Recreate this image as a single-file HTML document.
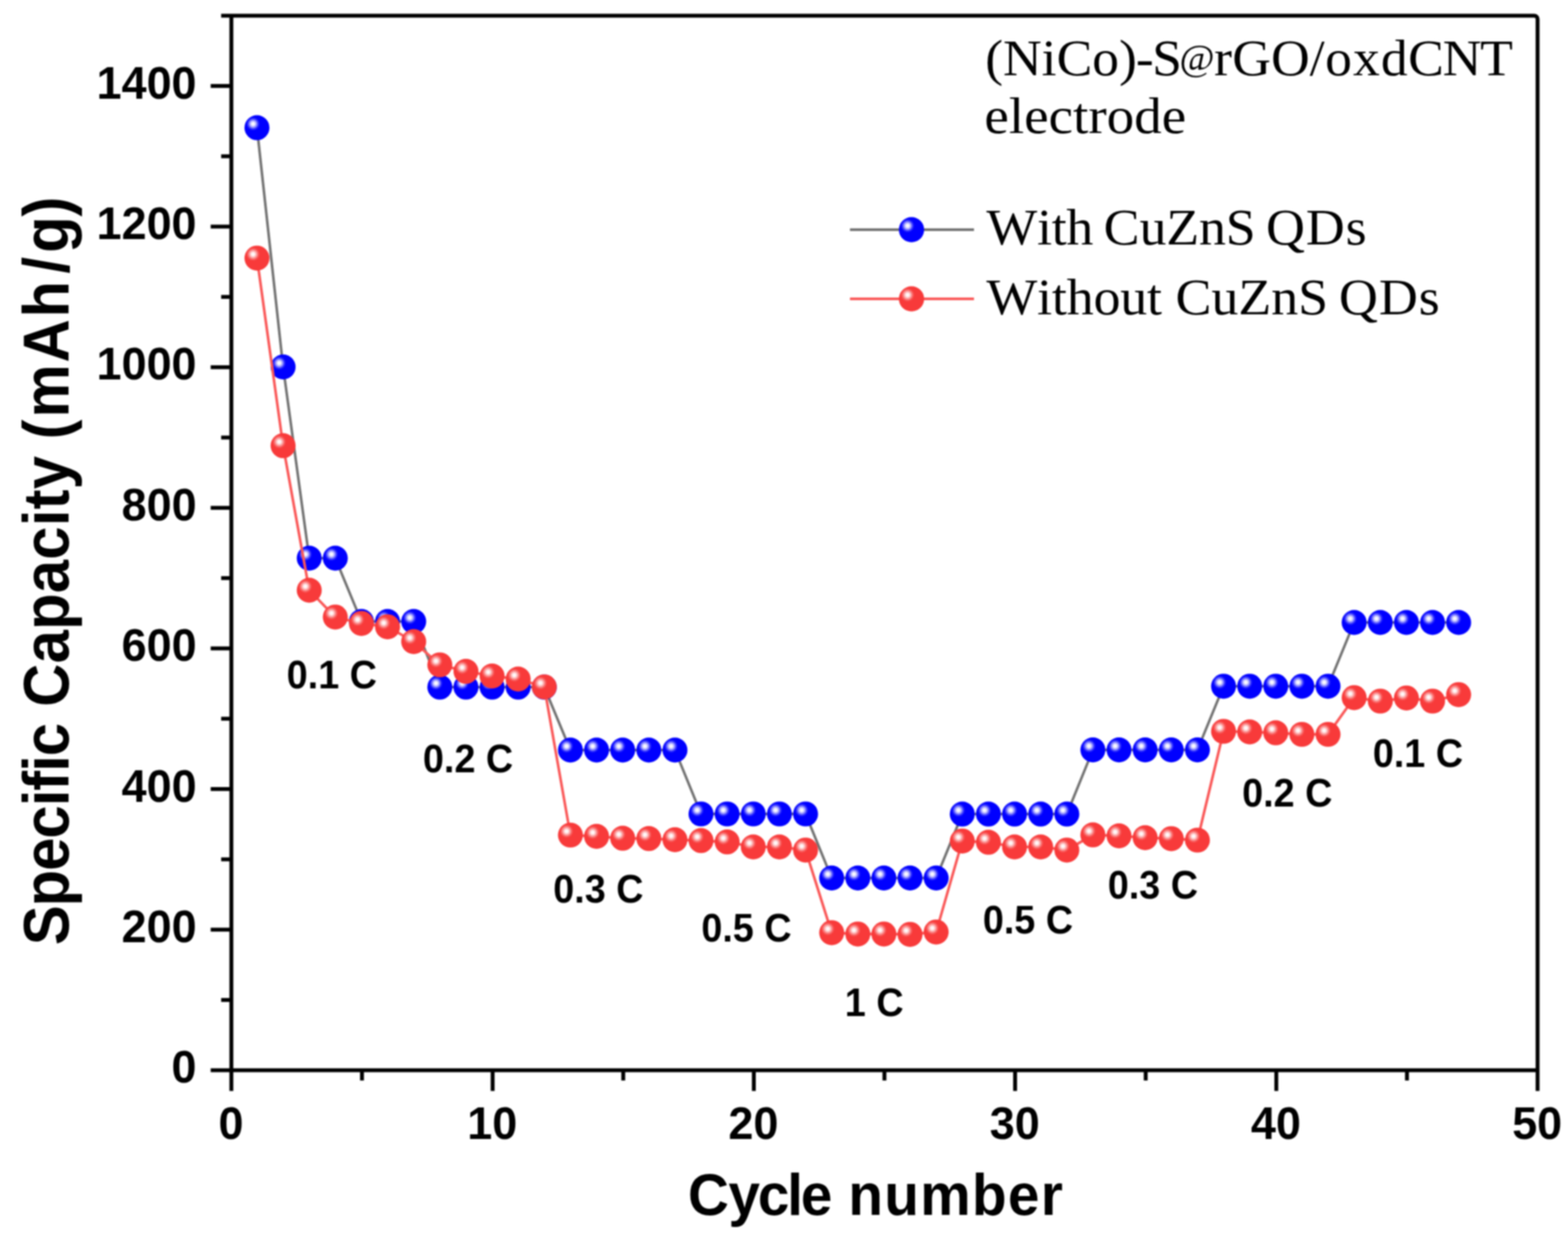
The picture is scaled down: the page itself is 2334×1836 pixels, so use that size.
<!DOCTYPE html>
<html lang="en"><head><meta charset="utf-8"><title>Rate capability</title>
<style>
html,body{margin:0;padding:0;background:#fff;}
body{width:2334px;height:1836px;overflow:hidden;}
svg{display:block;filter:blur(1.2px);}
.tk{font-family:"Liberation Sans",sans-serif;font-weight:bold;font-size:69px;fill:#000;}
.rt{font-family:"Liberation Sans",sans-serif;font-weight:bold;font-size:58.5px;fill:#000;}
.ax{font-family:"Liberation Sans",sans-serif;font-weight:bold;fill:#000;font-kerning:none;font-variant-ligatures:none;}
.lg{font-family:"Liberation Serif",serif;fill:#000;font-kerning:none;font-variant-ligatures:none;}
</style></head><body>
<svg width="2334" height="1836" viewBox="0 0 2334 1836">
<defs>
<radialGradient id="gb" cx="0.345" cy="0.345" r="0.27" fx="0.345" fy="0.345"><stop offset="0" stop-color="#ffffff"/><stop offset="0.22" stop-color="#f4f4ff"/><stop offset="0.5" stop-color="#9a9aff"/><stop offset="0.78" stop-color="#3030ff"/><stop offset="1" stop-color="#0000ff"/></radialGradient>
<radialGradient id="gr" cx="0.345" cy="0.345" r="0.27" fx="0.345" fy="0.345"><stop offset="0" stop-color="#ffffff"/><stop offset="0.22" stop-color="#fff4f4"/><stop offset="0.5" stop-color="#fcaaaa"/><stop offset="0.78" stop-color="#f95e5e"/><stop offset="1" stop-color="#f83a3a"/></radialGradient>
</defs>
<rect x="0" y="0" width="2334" height="1836" fill="#ffffff"/>
<g stroke="#000000" stroke-width="5.80" fill="none" stroke-linecap="butt" stroke-linejoin="round">
<path d="M344.4 23.3 V1624.5"/>
<path d="M329.2 23.3 H2283.7 A5.0 5.0 0 0 1 2288.7 28.3 V1624.5"/>
<path d="M313.6 1593.7 H2288.7"/>
<path d="M329.2 1489.0 H344.4"/>
<path d="M313.6 1384.3 H344.4"/>
<path d="M329.2 1279.6 H344.4"/>
<path d="M313.6 1174.9 H344.4"/>
<path d="M329.2 1070.2 H344.4"/>
<path d="M313.6 965.5 H344.4"/>
<path d="M329.2 860.8 H344.4"/>
<path d="M313.6 756.2 H344.4"/>
<path d="M329.2 651.5 H344.4"/>
<path d="M313.6 546.8 H344.4"/>
<path d="M329.2 442.1 H344.4"/>
<path d="M313.6 337.4 H344.4"/>
<path d="M329.2 232.7 H344.4"/>
<path d="M313.6 128.0 H344.4"/>
<path d="M538.8 1593.7 V1608.9"/>
<path d="M733.3 1593.7 V1624.5"/>
<path d="M927.7 1593.7 V1608.9"/>
<path d="M1122.1 1593.7 V1624.5"/>
<path d="M1316.5 1593.7 V1608.9"/>
<path d="M1511.0 1593.7 V1624.5"/>
<path d="M1705.4 1593.7 V1608.9"/>
<path d="M1899.8 1593.7 V1624.5"/>
<path d="M2094.3 1593.7 V1608.9"/>
</g>
<g class="tk" text-anchor="end">
<text transform="translate(292.6 1612.3) scale(0.970 1)">0</text>
<text transform="translate(292.6 1402.9) scale(0.970 1)">200</text>
<text transform="translate(292.6 1193.5) scale(0.970 1)">400</text>
<text transform="translate(292.6 984.1) scale(0.970 1)">600</text>
<text transform="translate(292.6 774.8) scale(0.970 1)">800</text>
<text transform="translate(292.6 565.4) scale(0.970 1)">1000</text>
<text transform="translate(292.6 356.0) scale(0.970 1)">1200</text>
<text transform="translate(292.6 146.6) scale(0.970 1)">1400</text>
</g>
<g class="tk" text-anchor="middle">
<text transform="translate(343.8 1696.1) scale(0.970 1)">0</text>
<text transform="translate(732.7 1696.1) scale(0.970 1)">10</text>
<text transform="translate(1121.5 1696.1) scale(0.970 1)">20</text>
<text transform="translate(1510.4 1696.1) scale(0.970 1)">30</text>
<text transform="translate(1899.2 1696.1) scale(0.970 1)">40</text>
<text transform="translate(2288.1 1696.1) scale(0.970 1)">50</text>
</g>
<text class="ax" font-size="88.0" transform="translate(1035.2 1808.9) scale(0.9600 1.0000)" x="-11.8 51.0 96.6 142.2 163.3 212.3 237.0 292.8 348.5 428.8 484.5 535.4" y="0">Cycle number</text>
<text class="ax" font-size="96.0" transform="translate(102.4 1405.0) rotate(-90) scale(0.9275 1.0000)" x="-2.8 59.7 116.7 168.5 220.4 245.4 275.8 300.9 354.3 380.1 449.8 503.5 562.5 616.3 670.0 697.0 729.4 782.7 809.4 844.4 932.8 1005.2 1075.8 1109.0 1167.0" y="0">Specific Capacity (mAh/g)</text>
<polyline points="382.5,190.2 421.4,546.4 460.3,831.1 499.1,831.1 538.0,925.4 576.9,925.4 615.8,925.4 654.7,1023.2 693.6,1023.2 732.5,1023.2 771.3,1023.2 810.2,1023.2 849.1,1116.9 888.0,1116.9 926.9,1116.9 965.8,1116.9 1004.7,1116.9 1043.5,1212.0 1082.4,1212.0 1121.3,1212.0 1160.2,1212.0 1199.1,1212.0 1238.0,1307.4 1276.9,1307.4 1315.7,1307.4 1354.6,1307.4 1393.5,1307.4 1432.4,1212.2 1471.3,1212.2 1510.2,1212.2 1549.1,1212.2 1588.0,1212.2 1626.8,1116.6 1665.7,1116.6 1704.6,1116.6 1743.5,1116.6 1782.4,1116.6 1821.3,1021.8 1860.2,1021.8 1899.0,1021.8 1937.9,1021.8 1976.8,1021.8 2015.7,926.9 2054.6,926.9 2093.5,926.9 2132.4,926.9 2171.2,926.9" fill="none" stroke="#727272" stroke-width="3.8" stroke-linejoin="round"/>
<g fill="url(#gb)">
<circle cx="382.5" cy="190.2" r="18.6"/>
<circle cx="421.4" cy="546.4" r="18.6"/>
<circle cx="460.3" cy="831.1" r="18.6"/>
<circle cx="499.1" cy="831.1" r="18.6"/>
<circle cx="538.0" cy="925.4" r="18.6"/>
<circle cx="576.9" cy="925.4" r="18.6"/>
<circle cx="615.8" cy="925.4" r="18.6"/>
<circle cx="654.7" cy="1023.2" r="18.6"/>
<circle cx="693.6" cy="1023.2" r="18.6"/>
<circle cx="732.5" cy="1023.2" r="18.6"/>
<circle cx="771.3" cy="1023.2" r="18.6"/>
<circle cx="810.2" cy="1023.2" r="18.6"/>
<circle cx="849.1" cy="1116.9" r="18.6"/>
<circle cx="888.0" cy="1116.9" r="18.6"/>
<circle cx="926.9" cy="1116.9" r="18.6"/>
<circle cx="965.8" cy="1116.9" r="18.6"/>
<circle cx="1004.7" cy="1116.9" r="18.6"/>
<circle cx="1043.5" cy="1212.0" r="18.6"/>
<circle cx="1082.4" cy="1212.0" r="18.6"/>
<circle cx="1121.3" cy="1212.0" r="18.6"/>
<circle cx="1160.2" cy="1212.0" r="18.6"/>
<circle cx="1199.1" cy="1212.0" r="18.6"/>
<circle cx="1238.0" cy="1307.4" r="18.6"/>
<circle cx="1276.9" cy="1307.4" r="18.6"/>
<circle cx="1315.7" cy="1307.4" r="18.6"/>
<circle cx="1354.6" cy="1307.4" r="18.6"/>
<circle cx="1393.5" cy="1307.4" r="18.6"/>
<circle cx="1432.4" cy="1212.2" r="18.6"/>
<circle cx="1471.3" cy="1212.2" r="18.6"/>
<circle cx="1510.2" cy="1212.2" r="18.6"/>
<circle cx="1549.1" cy="1212.2" r="18.6"/>
<circle cx="1588.0" cy="1212.2" r="18.6"/>
<circle cx="1626.8" cy="1116.6" r="18.6"/>
<circle cx="1665.7" cy="1116.6" r="18.6"/>
<circle cx="1704.6" cy="1116.6" r="18.6"/>
<circle cx="1743.5" cy="1116.6" r="18.6"/>
<circle cx="1782.4" cy="1116.6" r="18.6"/>
<circle cx="1821.3" cy="1021.8" r="18.6"/>
<circle cx="1860.2" cy="1021.8" r="18.6"/>
<circle cx="1899.0" cy="1021.8" r="18.6"/>
<circle cx="1937.9" cy="1021.8" r="18.6"/>
<circle cx="1976.8" cy="1021.8" r="18.6"/>
<circle cx="2015.7" cy="926.9" r="18.6"/>
<circle cx="2054.6" cy="926.9" r="18.6"/>
<circle cx="2093.5" cy="926.9" r="18.6"/>
<circle cx="2132.4" cy="926.9" r="18.6"/>
<circle cx="2171.2" cy="926.9" r="18.6"/>
</g>
<polyline points="382.5,384.3 421.4,663.7 460.3,878.9 499.1,918.8 538.0,928.3 576.9,933.3 615.8,955.4 654.7,990.0 693.6,999.7 732.5,1006.6 771.3,1011.1 810.2,1022.8 849.1,1243.5 888.0,1245.4 926.9,1248.2 965.8,1248.7 1004.7,1250.4 1043.5,1251.7 1082.4,1253.7 1121.3,1261.1 1160.2,1261.1 1199.1,1265.8 1238.0,1388.8 1276.9,1390.8 1315.7,1390.8 1354.6,1391.3 1393.5,1387.8 1432.4,1252.3 1471.3,1254.2 1510.2,1261.1 1549.1,1261.1 1588.0,1265.8 1626.8,1243.2 1665.7,1244.6 1704.6,1247.4 1743.5,1248.8 1782.4,1251.0 1821.3,1089.0 1860.2,1089.9 1899.0,1091.2 1937.9,1093.5 1976.8,1093.5 2015.7,1038.8 2054.6,1044.0 2093.5,1039.3 2132.4,1044.0 2171.2,1034.3" fill="none" stroke="#fa5858" stroke-width="3.9" stroke-linejoin="round"/>
<g fill="url(#gr)">
<circle cx="382.5" cy="384.3" r="18.6"/>
<circle cx="421.4" cy="663.7" r="18.6"/>
<circle cx="460.3" cy="878.9" r="18.6"/>
<circle cx="499.1" cy="918.8" r="18.6"/>
<circle cx="538.0" cy="928.3" r="18.6"/>
<circle cx="576.9" cy="933.3" r="18.6"/>
<circle cx="615.8" cy="955.4" r="18.6"/>
<circle cx="654.7" cy="990.0" r="18.6"/>
<circle cx="693.6" cy="999.7" r="18.6"/>
<circle cx="732.5" cy="1006.6" r="18.6"/>
<circle cx="771.3" cy="1011.1" r="18.6"/>
<circle cx="810.2" cy="1022.8" r="18.6"/>
<circle cx="849.1" cy="1243.5" r="18.6"/>
<circle cx="888.0" cy="1245.4" r="18.6"/>
<circle cx="926.9" cy="1248.2" r="18.6"/>
<circle cx="965.8" cy="1248.7" r="18.6"/>
<circle cx="1004.7" cy="1250.4" r="18.6"/>
<circle cx="1043.5" cy="1251.7" r="18.6"/>
<circle cx="1082.4" cy="1253.7" r="18.6"/>
<circle cx="1121.3" cy="1261.1" r="18.6"/>
<circle cx="1160.2" cy="1261.1" r="18.6"/>
<circle cx="1199.1" cy="1265.8" r="18.6"/>
<circle cx="1238.0" cy="1388.8" r="18.6"/>
<circle cx="1276.9" cy="1390.8" r="18.6"/>
<circle cx="1315.7" cy="1390.8" r="18.6"/>
<circle cx="1354.6" cy="1391.3" r="18.6"/>
<circle cx="1393.5" cy="1387.8" r="18.6"/>
<circle cx="1432.4" cy="1252.3" r="18.6"/>
<circle cx="1471.3" cy="1254.2" r="18.6"/>
<circle cx="1510.2" cy="1261.1" r="18.6"/>
<circle cx="1549.1" cy="1261.1" r="18.6"/>
<circle cx="1588.0" cy="1265.8" r="18.6"/>
<circle cx="1626.8" cy="1243.2" r="18.6"/>
<circle cx="1665.7" cy="1244.6" r="18.6"/>
<circle cx="1704.6" cy="1247.4" r="18.6"/>
<circle cx="1743.5" cy="1248.8" r="18.6"/>
<circle cx="1782.4" cy="1251.0" r="18.6"/>
<circle cx="1821.3" cy="1089.0" r="18.6"/>
<circle cx="1860.2" cy="1089.9" r="18.6"/>
<circle cx="1899.0" cy="1091.2" r="18.6"/>
<circle cx="1937.9" cy="1093.5" r="18.6"/>
<circle cx="1976.8" cy="1093.5" r="18.6"/>
<circle cx="2015.7" cy="1038.8" r="18.6"/>
<circle cx="2054.6" cy="1044.0" r="18.6"/>
<circle cx="2093.5" cy="1039.3" r="18.6"/>
<circle cx="2132.4" cy="1044.0" r="18.6"/>
<circle cx="2171.2" cy="1034.3" r="18.6"/>
</g>
<g class="rt">
<text transform="translate(426.8 1025.0) scale(0.960 1)">0.1 C</text>
<text transform="translate(629.6 1149.8) scale(0.960 1)">0.2 C</text>
<text transform="translate(823.6 1343.8) scale(0.960 1)">0.3 C</text>
<text transform="translate(1044.0 1402.0) scale(0.960 1)">0.5 C</text>
<text transform="translate(1257.6 1512.5) scale(0.960 1)">1 C</text>
<text transform="translate(1463.0 1390.0) scale(0.960 1)">0.5 C</text>
<text transform="translate(1649.0 1338.0) scale(0.960 1)">0.3 C</text>
<text transform="translate(1849.0 1200.8) scale(0.960 1)">0.2 C</text>
<text transform="translate(2043.5 1141.5) scale(0.960 1)">0.1 C</text>
</g>
<text class="lg" aria-label="(NiCo)-S@rGO/oxdCNT" font-size="77.0" transform="translate(1470.0 112.4) scale(1.0357 1.0000)" x="-3.4 22.2 77.8 99.1 150.4 188.9 213.2 236.5 276.0 325.7 351.6 407.4 462.9 485.3 525.3 565.3 604.5 654.2 708.1" y="0.0 0.0 0.0 0.0 0.0 0.0 0.0 0.0 -8.2 0.0 0.0 0.0 0.0 0.0 0.0 0.0 0.0 0.0 0.0">(NiCo)-S<tspan font-size="54.7">@</tspan>rGO/oxdCNT</text>
<text class="lg" font-size="77.0" transform="translate(1468.4 198.0) scale(1.0653 1.0000)" x="-3.0 31.2 52.6 86.7 120.9 142.3 167.9 206.4 244.9" y="0">electrode</text>
<text class="lg" font-size="77.0" transform="translate(1468.4 363.7) scale(1.0423 1.0000)" x="-0.1 72.2 93.1 114.1 152.6 167.4 218.5 256.7 303.4 341.6 384.4 399.1 456.0 512.8" y="0">With CuZnS QDs</text>
<text class="lg" font-size="77.0" transform="translate(1468.4 467.6) scale(1.0436 1.0000)" x="-0.1 72.3 93.4 114.4 152.6 190.8 229.0 250.4 269.6 320.8 359.2 406.1 444.4 487.2 502.8 559.7 616.5" y="0">Without CuZnS QDs</text>
<path d="M1265.2 342.0 H1449.8" stroke="#727272" stroke-width="3.8" fill="none"/>
<circle cx="1356.8" cy="342.0" r="18.8" fill="url(#gb)"/>
<path d="M1265.2 444.9 H1449.8" stroke="#fa5858" stroke-width="4.0" fill="none"/>
<circle cx="1356.8" cy="445.0" r="18.8" fill="url(#gr)"/>
</svg>
</body></html>
